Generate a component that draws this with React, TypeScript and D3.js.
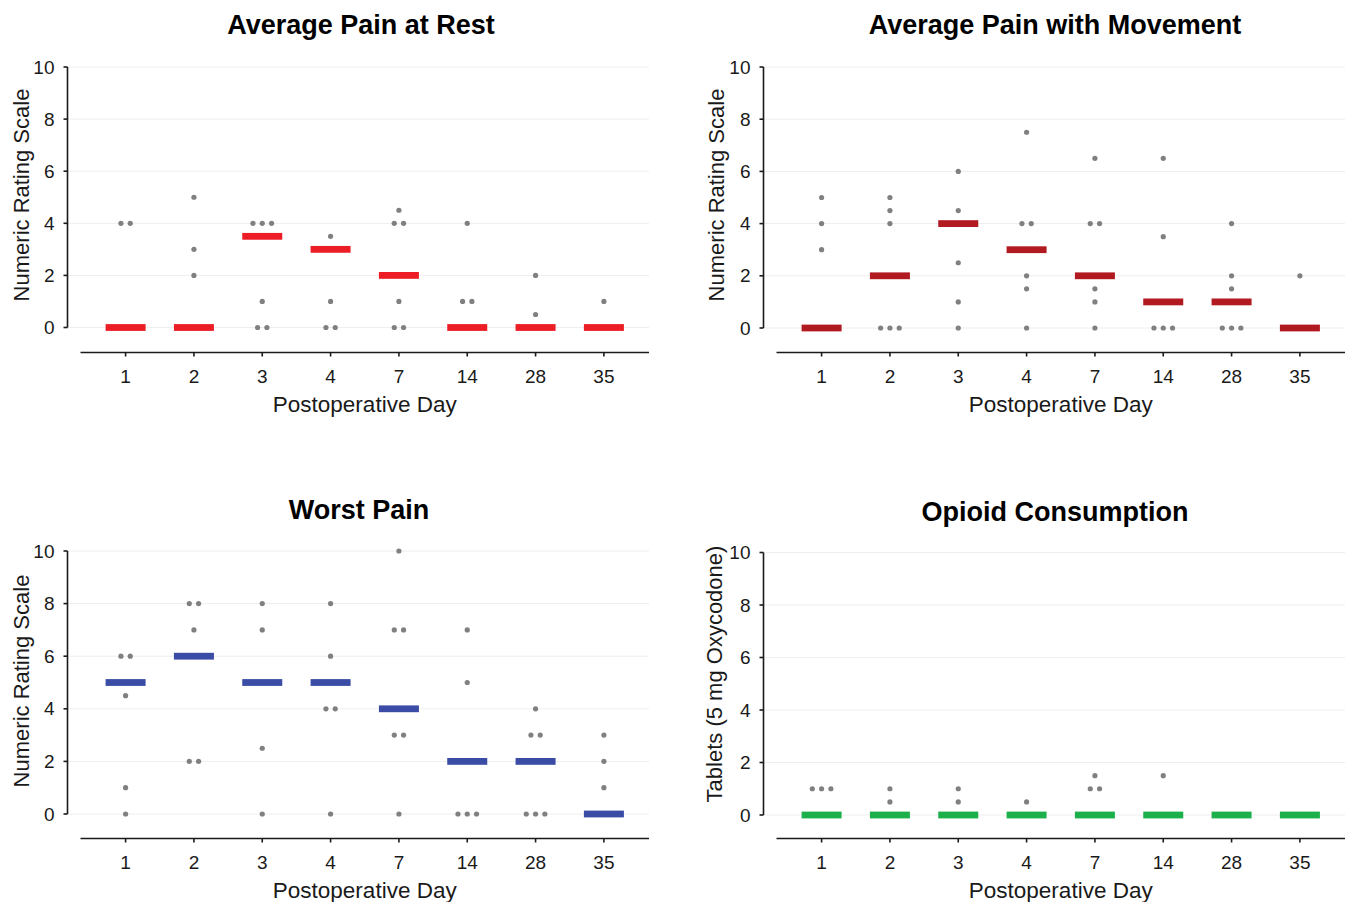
import React from "react";
import * as d3 from "d3";

const days = ["1", "2", "3", "4", "7", "14", "28", "35"];
const yTicks = [0, 2, 4, 6, 8, 10];

// median bars
const restMedian = [0, 0, 3.5, 3, 2, 0, 0, 0];
const moveMedian = [0, 2, 4, 3, 2, 1, 1, 0];
const worstMedian = [5, 6, 5, 5, 4, 2, 2, 0];
const opioidMedian = [0, 0, 0, 0, 0, 0, 0, 0];

// individual patients (visible dots) per day
const restPoints = [[4, 4], [5, 3, 2], [4, 4, 4, 1, 0, 0], [3.5, 1, 0, 0], [4.5, 4, 4, 1, 0, 0], [4, 1, 1], [2, 0.5], [1]];
const movePoints = [[5, 4, 3], [5, 4.5, 4, 0, 0, 0], [6, 4.5, 2.5, 1, 0], [7.5, 4, 4, 2, 1.5, 0], [6.5, 4, 4, 1.5, 1, 0], [6.5, 3.5, 0, 0, 0], [4, 2, 1.5, 0, 0, 0], [2]];
const worstPoints = [[6, 6, 4.5, 1, 0], [8, 8, 7, 2, 2], [8, 7, 2.5, 0], [8, 6, 4, 4, 0], [10, 7, 7, 3, 3, 0], [7, 5, 0, 0, 0], [4, 3, 3, 0, 0, 0], [3, 2, 1]];
const opioidPoints = [[1, 1, 1], [1, 0.5], [1, 0.5], [0.5], [1.5, 1, 1], [1.5], [], []];

interface Panel {
  title: string;
  yLabel: string;
  medians: number[];
  points: number[][];
  color: string;
  axisX: number;
  yTop: number;
  yZero: number;
  xAxisY: number;
  x0: number;
  x1: number;
  titleX: number;
  titleY: number;
  yLabelX: number;
  yLabelY: number;
}

const panels: Panel[] = [
  { title: "Average Pain at Rest", yLabel: "Numeric Rating Scale", medians: restMedian, points: restPoints, color: "#ec1d25",
    axisX: 67.5, yTop: 67, yZero: 327.5, xAxisY: 352.5, x0: 80.5, x1: 649, titleX: 361, titleY: 34, yLabelX: 21, yLabelY: 195 },
  { title: "Average Pain with Movement", yLabel: "Numeric Rating Scale", medians: moveMedian, points: movePoints, color: "#b21a22",
    axisX: 763.5, yTop: 67, yZero: 328, xAxisY: 352.5, x0: 776.5, x1: 1345, titleX: 1055, titleY: 34, yLabelX: 716, yLabelY: 195 },
  { title: "Worst Pain", yLabel: "Numeric Rating Scale", medians: worstMedian, points: worstPoints, color: "#3a4ca6",
    axisX: 67.5, yTop: 551, yZero: 814, xAxisY: 838.5, x0: 80.5, x1: 649, titleX: 359, titleY: 519, yLabelX: 21, yLabelY: 681 },
  { title: "Opioid Consumption", yLabel: "Tablets (5 mg Oxycodone)", medians: opioidMedian, points: opioidPoints, color: "#1cb04b",
    axisX: 763.5, yTop: 552.5, yZero: 815, xAxisY: 838.5, x0: 776.5, x1: 1345, titleX: 1055, titleY: 521, yLabelX: 714, yLabelY: 674 },
];

const font = "'Liberation Sans', Arial, Helvetica, sans-serif";
const ink = "#1a1a1a";

const PanelChart: React.FC<{ p: Panel }> = ({ p }) => {
  const y = d3.scaleLinear().domain([0, 10]).range([p.yZero, p.yTop]);
  const x = d3.scalePoint<string>().domain(days).range([p.x0, p.x1]).padding(0.66);
  const gridEnd = p.x1;

  // spread equal values side by side
  const dots: { cx: number; cy: number }[] = [];
  p.points.forEach((vals, i) => {
    const groups = d3.group(vals, v => v);
    groups.forEach((arr, v) => {
      arr.forEach((_, k) => {
        dots.push({ cx: (x(days[i]) as number) + (k - (arr.length - 1) / 2) * 9.3, cy: y(v) });
      });
    });
  });

  return (
    <g fontFamily={font}>
      <text x={p.titleX} y={p.titleY} textAnchor="middle" fontSize={27} fontWeight="bold" fill="#000">
        {p.title}
      </text>
      {yTicks.map(t => (
        <line key={"g" + t} x1={p.axisX} x2={gridEnd} y1={y(t)} y2={y(t)} stroke="#eeeeee" strokeWidth={1} />
      ))}
      <line x1={p.axisX} x2={p.axisX} y1={y(10)} y2={y(0)} stroke={ink} strokeWidth={1.6} />
      {yTicks.map(t => (
        <g key={"t" + t}>
          <line x1={p.axisX - 4} x2={p.axisX} y1={y(t)} y2={y(t)} stroke={ink} strokeWidth={1.6} />
          <text x={p.axisX - 13} y={y(t)} dy="0.35em" textAnchor="end" fontSize={19} fill={ink}>
            {t}
          </text>
        </g>
      ))}
      <text
        transform={`translate(${p.yLabelX},${p.yLabelY}) rotate(-90)`}
        textAnchor="middle"
        dy="0.35em"
        fontSize={22}
        fill={ink}
      >
        {p.yLabel}
      </text>
      <line x1={p.x0} x2={p.x1} y1={p.xAxisY} y2={p.xAxisY} stroke={ink} strokeWidth={1.6} />
      {days.map(d => (
        <g key={"x" + d}>
          <line x1={x(d)} x2={x(d)} y1={p.xAxisY} y2={p.xAxisY + 4} stroke={ink} strokeWidth={1.6} />
          <text x={x(d)} y={p.xAxisY + 30} textAnchor="middle" fontSize={19} fill={ink}>
            {d}
          </text>
        </g>
      ))}
      <text x={(p.x0 + p.x1) / 2} y={p.xAxisY + 59} textAnchor="middle" fontSize={22.5} fill={ink}>
        Postoperative Day
      </text>
      {dots.map((d, i) => (
        <circle key={"d" + i} cx={d.cx} cy={d.cy} r={2.6} fill="#808080" />
      ))}
      {p.medians.map((m, i) => (
        <rect key={"m" + i} x={(x(days[i]) as number) - 20} y={y(m) - 3.4} width={40} height={6.8} fill={p.color} />
      ))}
    </g>
  );
};

export default function App() {
  return (
    <svg width={1354} height={902} style={{ position: "absolute", left: 0, top: 0, background: "#fff" }}>
      <rect width={1354} height={902} fill="#fff" />
      {panels.map(p => (
        <PanelChart key={p.title} p={p} />
      ))}
    </svg>
  );
}
